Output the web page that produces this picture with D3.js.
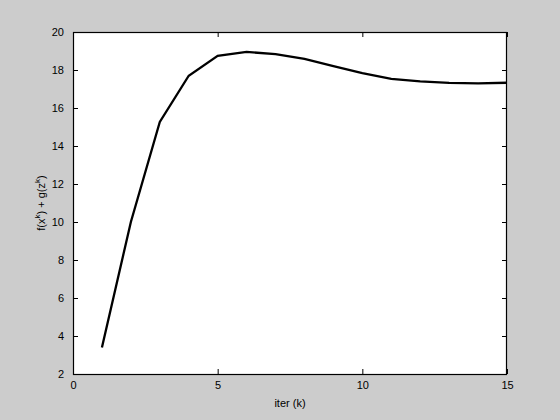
<!DOCTYPE html>
<html>
<head>
<meta charset="utf-8">
<script src="https://cdn.jsdelivr.net/npm/d3@7"></script>
<style>
html,body{margin:0;padding:0;background:#cccccc;}
svg{display:block;}
text{font-family:"Liberation Sans",Arial,Helvetica,sans-serif;font-size:11px;fill:#000;}
</style>
</head>
<body>
<script>
const iters = [1,2,3,4,5,6,7,8,9,10,11,12,13,14,15];
const objective = [3.4,10.0,15.27,17.7,18.75,18.95,18.84,18.58,18.2,17.83,17.53,17.4,17.32,17.3,17.33];
const xTicks = [0,5,10,15];
const yTicks = [2,4,6,8,10,12,14,16,18,20];

const W=560,H=420;
const L=73,R=507,T=32,B=374;
const svg=d3.select("body").append("svg").attr("width",W).attr("height",H);
svg.append("rect").attr("width",W).attr("height",H).attr("fill","#cccccc");
const x=d3.scaleLinear().domain([0,15]).range([L,R]);
const y=d3.scaleLinear().domain([2,20]).range([B,T]);

svg.append("rect").attr("x",L).attr("y",T).attr("width",R-L).attr("height",B-T).attr("fill","#fff");

const tl=5;
const ax=(g)=>g.selectAll(".domain").remove();
svg.append("g").attr("transform",`translate(0,${B})`)
  .call(d3.axisBottom(x).tickValues(xTicks).tickSizeInner(-tl).tickSizeOuter(0).tickPadding(7)).call(ax);
svg.append("g").attr("transform",`translate(0,${T})`)
  .call(d3.axisTop(x).tickValues(xTicks).tickSizeInner(-tl).tickSizeOuter(0).tickFormat("")).call(ax);
svg.append("g").attr("transform",`translate(${L},0)`)
  .call(d3.axisLeft(y).tickValues(yTicks).tickSizeInner(-tl).tickSizeOuter(0).tickPadding(9)).call(ax);
svg.append("g").attr("transform",`translate(${R},0)`)
  .call(d3.axisRight(y).tickValues(yTicks).tickSizeInner(-tl).tickSizeOuter(0).tickFormat("")).call(ax);
svg.selectAll(".tick line").attr("stroke","#000");
svg.selectAll(".tick text").style("font-family",'"Liberation Sans",Arial,sans-serif').style("font-size","11px").attr("fill","#000");

svg.append("rect").attr("x",L+0.5).attr("y",T+0.5).attr("width",R-L-1).attr("height",B-T).attr("fill","none").attr("stroke","#000").attr("stroke-width",1.2);

const line=d3.line().x((d,i)=>x(iters[i])).y(d=>y(d));
svg.append("path").datum(objective).attr("d",line).attr("fill","none").attr("stroke","#000").attr("stroke-width",2.3).attr("stroke-linejoin","miter");

svg.append("text").attr("x",(L+R)/2).attr("y",407).attr("text-anchor","middle").text("iter (k)");

const yl=svg.append("text").attr("transform",`translate(45,${(T+B)/2}) rotate(-90)`).attr("text-anchor","middle");
yl.append("tspan").text("f(x");
yl.append("tspan").attr("dy",-5).style("font-size","8px").text("k");
yl.append("tspan").attr("dy",5).text(") + g(z");
yl.append("tspan").attr("dy",-5).style("font-size","8px").text("k");
yl.append("tspan").attr("dy",5).text(")");
</script>
</body>
</html>
